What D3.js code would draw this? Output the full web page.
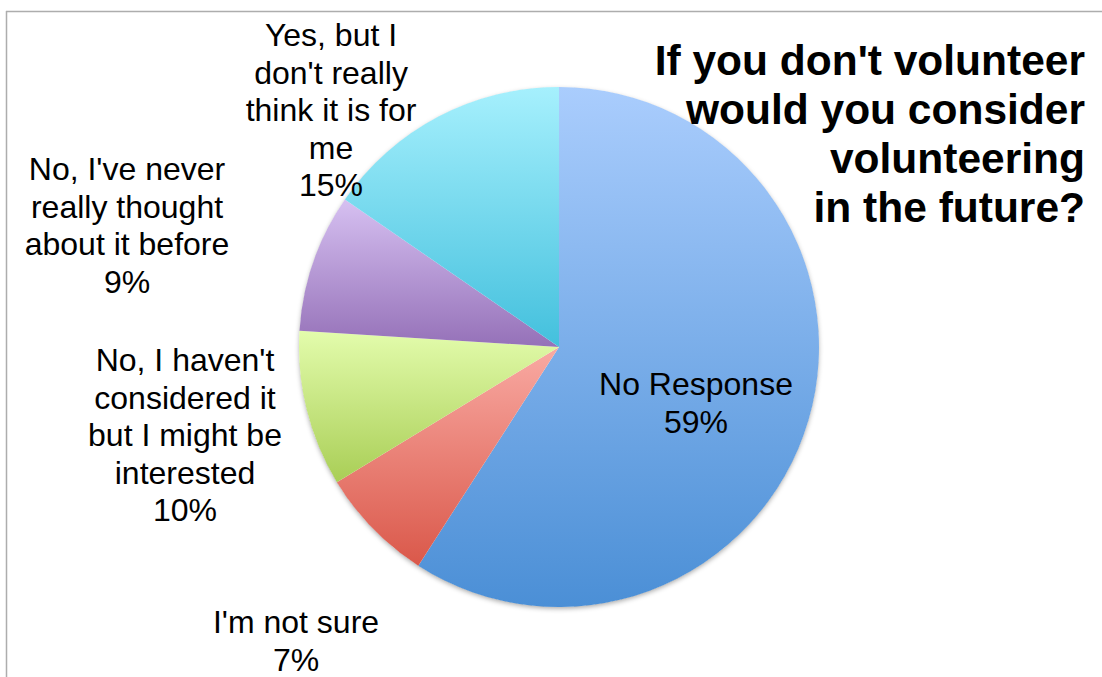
<!DOCTYPE html>
<html>
<head>
<meta charset="utf-8">
<script src="https://cdn.jsdelivr.net/npm/d3@7/dist/d3.min.js"></script>
<style>
  html, body { margin: 0; padding: 0; background: #ffffff; }
  svg { display: block; }
</style>
</head>
<body>
<svg id="chart" width="1102" height="677"></svg>
<script>
// ---- data ----
const categories = [
  "No Response",
  "I'm not sure",
  "No, I haven't considered it but I might be interested",
  "No, I've never really thought about it before",
  "Yes, but I don't really think it is for me"
];
const values = [59.1, 7.2, 9.7, 8.6, 15.4];
const labelLines = [
  ["No Response"],
  ["I'm not sure"],
  ["No, I haven't", "considered it", "but I might be", "interested"],
  ["No, I've never", "really thought", "about it before"],
  ["Yes, but I", "don't really", "think it is for", "me"]
];
const titleLines = ["If you don't volunteer", "would you consider", "volunteering", "in the future?"];
const colorsTop    = ["#aacdfd", "#f9aaa3", "#e3fcac", "#d6c0f1", "#a6f0fd"];
const colorsBottom = ["#4b8fd6", "#da584a", "#a9ce56", "#9571b8", "#43c0dd"];

// ---- layout (not data) ----
const W = 1102, H = 677;
const cx = 559, cy = 347, R = 260;
const labelAnchors = [ // centre x, first baseline y
  {x: 696, y: 395},
  {x: 296, y: 633},
  {x: 185, y: 371},
  {x: 127, y: 180},
  {x: 331, y: 46}
];
const lineH = 37.5;
const fontFamily = "'Liberation Sans', Arial, Helvetica, sans-serif";

const svg = d3.select("#chart");
const defs = svg.append("defs");

// frame
svg.append("line").attr("x1", 6).attr("x2", W).attr("y1", 11.5).attr("y2", 11.5)
  .attr("stroke", "#adadad").attr("stroke-width", 1.5);
svg.append("line").attr("x1", 6.5).attr("x2", 6.5).attr("y1", 11).attr("y2", H)
  .attr("stroke", "#adadad").attr("stroke-width", 1.5);

// shadow filter
const f = defs.append("filter").attr("id", "shadow")
  .attr("x", "-10%").attr("y", "-10%").attr("width", "120%").attr("height", "120%");
f.append("feDropShadow").attr("dx", 0).attr("dy", 2).attr("stdDeviation", 2.5)
  .attr("flood-color", "#000").attr("flood-opacity", 0.35);

// gradients
categories.forEach((c, i) => {
  const g = defs.append("linearGradient").attr("id", "grad" + i)
    .attr("x1", 0).attr("y1", 0).attr("x2", 0).attr("y2", 1);
  g.append("stop").attr("offset", "0%").attr("stop-color", colorsTop[i]);
  g.append("stop").attr("offset", "100%").attr("stop-color", colorsBottom[i]);
});

const pie = d3.pie().sort(null).value(d => d)(values);
const arc = d3.arc().innerRadius(0).outerRadius(R);

const pg = svg.append("g").attr("transform", `translate(${cx},${cy})`);
// shadow base
pg.append("circle").attr("r", R - 0.5).attr("fill", "#ffffff").attr("filter", "url(#shadow)");
pg.selectAll("path.slice").data(pie).join("path")
  .attr("class", "slice")
  .attr("d", arc)
  .attr("fill", (d, i) => `url(#grad${i})`);

// labels
const pct = d3.format(".0%");
const lg = svg.append("g").attr("font-family", fontFamily).attr("font-size", 32)
  .attr("fill", "#000").attr("text-anchor", "middle");
labelLines.forEach((lines, i) => {
  const a = labelAnchors[i];
  const t = lg.append("text").attr("x", a.x).attr("y", a.y);
  const all = lines.concat([pct(Math.round(values[i]) / 100)]);
  all.forEach((ln, j) => {
    t.append("tspan").attr("x", a.x).attr("y", a.y + j * lineH).text(ln);
  });
});

// title
const tt = svg.append("text").attr("font-family", fontFamily).attr("font-size", 42.5)
  .attr("font-weight", "bold").attr("text-anchor", "end").attr("fill", "#000");
titleLines.forEach((ln, j) => {
  tt.append("tspan").attr("x", 1085).attr("y", 75 + j * 49).text(ln);
});
</script>
</body>
</html>
